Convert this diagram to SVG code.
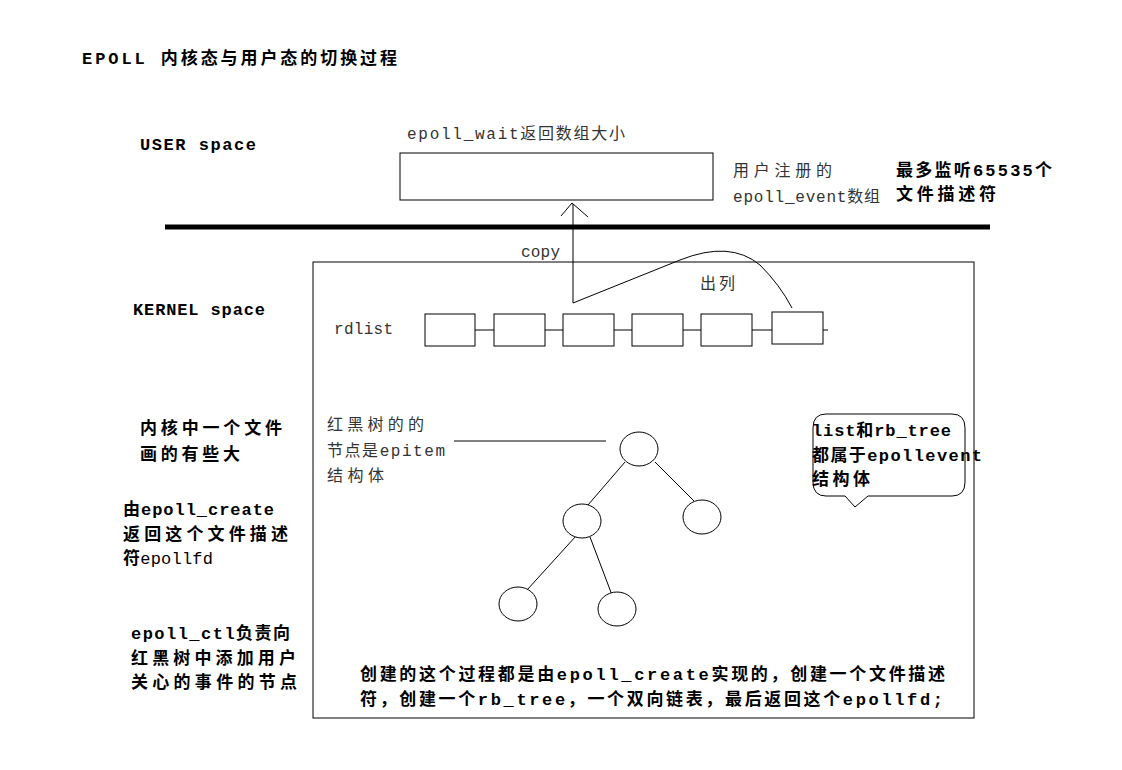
<svg xmlns="http://www.w3.org/2000/svg" width="1122" height="770" viewBox="0 0 1122 770">
<style>
text{font-family:"Liberation Mono","Noto Sans CJK SC",monospace;font-size:16px;fill:#000}
.b{font-weight:bold;font-size:17px}
.g{fill:#333}
.l{fill:none;stroke:#000;stroke-width:1}
.n{fill:#fff;stroke:#000;stroke-width:1}
</style>
<rect width="1122" height="770" fill="#fff"/>
<text class="b" x="82" y="64" textLength="315" lengthAdjust="spacing">EPOLL 内核态与用户态的切换过程</text>
<text class="b" x="140" y="150" textLength="116" lengthAdjust="spacing">USER  space</text>
<text class="b" x="133" y="315" textLength="132" lengthAdjust="spacing">KERNEL  space</text>
<text class="b" x="140" y="434" textLength="142" lengthAdjust="spacing">内核中一个文件</text>
<text class="b" x="140" y="460" textLength="100" lengthAdjust="spacing">画的有些大</text>
<text class="b" x="123" y="515" textLength="151" lengthAdjust="spacing">由epoll_create</text>
<text class="b" x="123" y="540" textLength="165" lengthAdjust="spacing">返回这个文件描述</text>
<text class="b" x="123" y="564" textLength="90" lengthAdjust="spacing">符<tspan font-weight="normal">epollfd</tspan></text>
<text class="b" x="131" y="639" textLength="159" lengthAdjust="spacing">epoll_ctl负责向</text>
<text class="b" x="131" y="664" textLength="165" lengthAdjust="spacing">红黑树中添加用户</text>
<text class="b" x="131" y="688" textLength="166" lengthAdjust="spacing">关心的事件的节点</text>
<g id="user-array">
<text class="g" x="407" y="139" textLength="218" lengthAdjust="spacing">epoll_wait返回数组大小</text>
<rect class="n" x="400" y="153" width="313" height="47"/>
<text class="g" x="733" y="176" textLength="99" lengthAdjust="spacing">用户注册的</text>
<text class="g" x="733" y="202" textLength="147" lengthAdjust="spacing">epoll_event数组</text>
</g>
<text class="b" x="896" y="176" textLength="156" lengthAdjust="spacing">最多监听65535个</text>
<text class="b" x="896" y="200" textLength="100" lengthAdjust="spacing">文件描述符</text>
<line x1="165" y1="227" x2="990" y2="227" stroke="#000" stroke-width="5"/>
<g id="kernel-box">
<rect x="313" y="262" width="661" height="456" fill="none" stroke="#000"/>
</g>
<text class="g" x="521" y="257" textLength="39" lengthAdjust="spacing">copy</text>
<text class="g" x="700" y="289" textLength="35" lengthAdjust="spacing">出列</text>
<g id="rdlist">
<text class="g" x="334" y="334" textLength="59" lengthAdjust="spacing">rdlist</text>
<line class="l" x1="475" y1="330" x2="828" y2="330"/>
<rect class="n" x="425" y="314" width="50" height="32"/>
<rect class="n" x="494" y="314" width="51" height="32"/>
<rect class="n" x="563" y="314" width="51" height="32"/>
<rect class="n" x="632" y="314" width="51" height="32"/>
<rect class="n" x="701" y="314" width="51" height="32"/>
<rect class="n" x="772" y="312" width="51" height="32"/>
</g>
<g id="connectors">
<line class="l" x1="573" y1="303" x2="573" y2="204"/>
<polyline class="l" points="561,216 572,203 588,217"/>
<path class="l" d="M573,303 L680,260 Q730,240 760,265 Q780,285 792,308"/>
<line class="l" x1="454" y1="441" x2="606" y2="441"/>
<line class="l" x1="625" y1="462" x2="588" y2="505"/>
<line class="l" x1="655" y1="462" x2="694" y2="501"/>
<line class="l" x1="576" y1="536" x2="527" y2="590"/>
<line class="l" x1="590" y1="537" x2="612" y2="595"/>
</g>
<g id="tree">
<text class="g" x="327" y="430" textLength="97" lengthAdjust="spacing">红黑树的的</text>
<text class="g" x="327" y="456" textLength="118" lengthAdjust="spacing">节点是epitem</text>
<text class="g" x="327" y="481" textLength="57" lengthAdjust="spacing">结构体</text>
<ellipse class="n" cx="639" cy="449" rx="19" ry="17"/>
<ellipse class="n" cx="582" cy="521" rx="19" ry="17"/>
<ellipse class="n" cx="702" cy="517" rx="19" ry="17"/>
<ellipse class="n" cx="518" cy="604" rx="19" ry="17"/>
<ellipse class="n" cx="617" cy="609" rx="19" ry="17"/>
</g>
<g id="callout">
<path class="l" d="M826,414 H952 Q965,414 965,428 V482 Q965,496 952,496 H868 L855,507 L845,496 H826 Q813,496 813,482 V428 Q813,414 826,414 Z"/>
<text class="b" x="812" y="436" textLength="139" lengthAdjust="spacing">list和rb_tree</text>
<text class="b" x="812" y="461" textLength="170" lengthAdjust="spacing">都属于epollevent</text>
<text class="b" x="812" y="485" textLength="58" lengthAdjust="spacing">结构体</text>
</g>
<text class="b" x="360" y="680" textLength="585" lengthAdjust="spacing">创建的这个过程都是由epoll_create实现的，创建一个文件描述</text>
<text class="b" x="360" y="705" textLength="583" lengthAdjust="spacing">符，创建一个rb_tree，一个双向链表，最后返回这个epollfd;</text>
</svg>
